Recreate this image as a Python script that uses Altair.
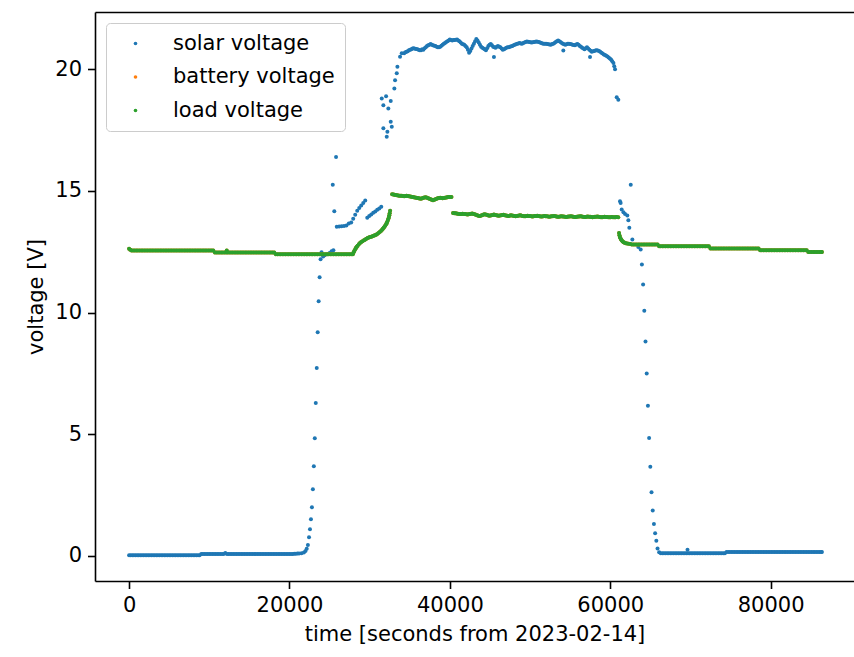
import altair as alt
import pandas as pd

# ---------------- data ----------------
series_names = ["solar voltage", "battery voltage", "load voltage"]
series_colors = ["#1f77b4", "#ff7f0e", "#2ca02c"]
x_ticks = [0, 20000, 40000, 60000, 80000]
y_ticks = [0, 5, 10, 15, 20]

# --- solar voltage, night before dawn
solar_night1_time = [
    0, 200, 400, 600, 800, 1000, 1200, 1400, 1600, 1800,
    2000, 2200, 2400, 2600, 2800, 3000, 3200, 3400, 3600, 3800,
    4000, 4200, 4400, 4600, 4800, 5000, 5200, 5400, 5600, 5800,
    6000, 6200, 6400, 6600, 6800, 7000, 7200, 7400, 7600, 7800,
    8000, 8200, 8400, 8600, 8800,
]
solar_night1_volt = [
    0.03, 0.03, 0.03, 0.03, 0.03, 0.03, 0.03, 0.03, 0.03, 0.03,
    0.03, 0.03, 0.03, 0.03, 0.03, 0.03, 0.03, 0.03, 0.03, 0.03,
    0.03, 0.03, 0.03, 0.03, 0.03, 0.03, 0.03, 0.03, 0.03, 0.03,
    0.03, 0.03, 0.03, 0.03, 0.03, 0.03, 0.03, 0.03, 0.03, 0.03,
    0.03, 0.03, 0.03, 0.03, 0.03,
]
solar_night2_time = [
    9000, 9200, 9400, 9600, 9800, 10000, 10200, 10400, 10600, 10800,
    11000, 11200, 11400, 11600, 11800, 12000, 12200, 12400, 12600, 12800,
    13000, 13200, 13400, 13600, 13800, 14000, 14200, 14400, 14600, 14800,
    15000, 15200, 15400, 15600, 15800, 16000, 16200, 16400, 16600, 16800,
    17000, 17200, 17400, 17600, 17800, 18000, 18200, 18400, 18600, 18800,
    19000, 19200, 19400, 19600, 19800, 20000, 20200, 20400, 20600, 20800,
    21000, 21200,
]
solar_night2_volt = [
    0.08, 0.08, 0.08, 0.08, 0.08, 0.08, 0.08, 0.08, 0.08, 0.08,
    0.08, 0.08, 0.08, 0.08, 0.08, 0.12, 0.08, 0.08, 0.08, 0.08,
    0.08, 0.08, 0.08, 0.08, 0.08, 0.08, 0.08, 0.08, 0.08, 0.08,
    0.08, 0.08, 0.08, 0.08, 0.08, 0.08, 0.08, 0.08, 0.08, 0.08,
    0.08, 0.08, 0.08, 0.08, 0.08, 0.08, 0.08, 0.08, 0.08, 0.08,
    0.08, 0.08, 0.08, 0.08, 0.08, 0.08, 0.08, 0.08, 0.09, 0.09,
    0.1, 0.1,
]
# --- solar voltage, daytime
solar_day_time = [
    21500, 21800, 22000, 22150, 22300, 22440, 22560, 22680, 22800, 22920, 23040, 23160, 23280,
    23400, 23520, 23640, 23760, 23880, 24000,
    24200, 24400, 24700, 25000, 25250, 25480, 25400, 25590, 25810,
    25900, 26200, 26500, 26800, 27100, 27400, 27700,
    27950, 28200, 28450, 28700, 28950, 29200, 29450,
    29700, 29950, 30200, 30450, 30700, 30950, 31200, 31450,
    31510, 31710, 32050, 32330, 32630, 31710, 32210, 32130, 32760, 32630,
    33080, 33170, 33380, 33460, 33790, 34000,
    34300, 34600, 34900, 35200, 35500, 35800, 36100, 36400, 36700, 37000, 37300, 37600, 37900,
    38200, 38500, 38800, 39100, 39400, 39700, 40000, 40300, 40600, 40900, 41200, 41500, 41800,
    42100, 42400, 42700, 43000, 43300, 43600, 43900, 44200, 44500, 44800, 45100, 45400, 45500,
    45700, 46000, 46300, 46600, 46900, 47200, 47500, 47800, 48100, 48400, 48700, 49000, 49300,
    49600, 49900, 50200, 50500, 50800, 51100, 51400, 51700, 52000, 52300, 52600, 52900, 53200,
    53500, 53800, 54100, 54150, 54400, 54700, 55000, 55300, 55600, 55900, 56200, 56500, 56800,
    57100, 57400, 57480, 57700, 58000, 58300, 58600, 58900, 59200, 59500, 59800, 60100, 60400,
    60600, 60810, 61010,
    61220, 61300, 61430, 61650, 61850, 62130, 62260, 62380, 62560, 62760, 63500, 63800, 63950,
    64100, 64250, 64400, 64550, 64700, 64850, 65000, 65150, 65300, 65450, 65600, 65750, 65900,
    66100, 69640,
]
solar_day_volt = [
    0.11, 0.14, 0.2, 0.3, 0.45, 0.77, 1.1, 1.51, 2.0, 2.74, 3.69, 4.84, 6.28,
    7.72, 9.19, 10.46, 11.45, 12.19, 12.48,
    12.3, 12.35, 12.4, 12.45, 12.52, 12.56, 15.25, 14.16, 16.39,
    13.53, 13.54, 13.55, 13.56, 13.58, 13.66, 13.7,
    13.85, 14.02, 14.18, 14.3, 14.4, 14.5, 14.6,
    13.9, 13.97, 14.03, 14.1, 14.15, 14.22, 14.28, 14.35,
    18.8, 18.52, 18.89, 18.38, 18.69, 17.57, 17.43, 17.22, 17.63, 17.84,
    19.21, 19.55, 19.83, 20.1, 20.51, 20.65,
    20.66, 20.72, 20.78, 20.82, 20.86, 20.83, 20.8, 20.78, 20.8, 20.9, 20.98, 21.04, 20.98,
    20.95, 20.9, 20.92, 21.0, 21.08, 21.15, 21.22, 21.18, 21.2, 21.22, 21.15, 21.05, 21.0,
    20.9, 20.68, 20.85, 21.05, 21.24, 21.1, 20.92, 20.85, 20.78, 20.95, 21.04, 20.92, 20.5,
    20.88, 20.95, 20.9, 20.8, 20.85, 20.9, 20.92, 20.95, 21.0, 21.05, 21.08, 21.05, 21.1,
    21.14, 21.12, 21.1, 21.12, 21.14, 21.12, 21.08, 21.05, 21.05, 21.02, 21.0, 21.05, 21.12,
    21.18, 21.12, 21.05, 20.77, 21.0, 21.05, 21.04, 21.0, 20.98, 21.04, 20.95, 20.88, 20.82,
    20.9, 20.8, 20.5, 20.72, 20.75, 20.78, 20.75, 20.68, 20.6, 20.55, 20.48, 20.4, 20.25,
    20.0, 18.85, 18.74,
    14.57, 14.5, 14.23, 14.12, 14.05, 13.99, 13.79, 13.49, 15.25, 13.0, 12.69, 12.59, 11.97,
    11.15, 10.07, 8.81, 7.5, 6.17, 4.85, 3.66, 2.62, 1.87, 1.31, 0.93, 0.62, 0.31,
    0.15, 0.25,
]
# --- solar voltage, further readings inside the noisy midday band
solar_band_time = [
    34450, 34750, 35050, 35350, 35650, 35950, 36250, 36550, 36850, 37150,
    37450, 37750, 38050, 38350, 38650, 38950, 39250, 39550, 39850, 40150,
    40450, 40750, 41050, 41350, 41650, 41950, 42250, 42550, 42850, 43150,
    43450, 43750, 44050, 44350, 44650, 44950, 45250, 45550, 45850, 46150,
    46450, 46750, 47050, 47350, 47650, 47950, 48250, 48550, 48850, 49150,
    49450, 49750, 50050, 50350, 50650, 50950, 51250, 51550, 51850, 52150,
    52450, 52750, 53050, 53350, 53650, 53950, 54250, 54550, 54850, 55150,
    55450, 55750, 56050, 56350, 56650, 56950, 57250, 57550, 57850, 58150,
    58450, 58750, 59050, 59350, 59650, 59950, 60250, 60500,
]
solar_band_volt = [
    20.7, 20.74, 20.8, 20.85, 20.84, 20.82, 20.78, 20.82, 20.86, 20.95,
    21.0, 21.0, 20.96, 20.92, 20.9, 20.96, 21.05, 21.12, 21.18, 21.2,
    21.2, 21.21, 21.18, 21.1, 21.02, 20.95, 20.8, 20.75, 20.95, 21.15,
    21.18, 21.0, 20.88, 20.82, 20.86, 21.0, 20.98, 20.9, 20.92, 20.92,
    20.85, 20.82, 20.88, 20.9, 20.94, 20.98, 21.02, 21.06, 21.06, 21.08,
    21.12, 21.13, 21.11, 21.11, 21.13, 21.13, 21.1, 21.06, 21.05, 21.03,
    21.01, 21.03, 21.08, 21.15, 21.15, 21.08, 21.02, 21.02, 21.05, 21.02,
    20.99, 21.01, 21.0, 20.92, 20.85, 20.86, 20.85, 20.76, 20.74, 20.77,
    20.77, 20.72, 20.64, 20.58, 20.52, 20.44, 20.33, 20.12,
]
# --- solar voltage, night after sunset
solar_night3_time = [
    66300, 66500, 66700, 66900, 67100, 67300, 67500, 67700, 67900, 68100,
    68300, 68500, 68700, 68900, 69100, 69300, 69500, 69700, 69900, 70100,
    70300, 70500, 70700, 70900, 71100, 71300, 71500, 71700, 71900, 72100,
    72300, 72500, 72700, 72900, 73100, 73300, 73500, 73700, 73900, 74100,
    74300,
]
solar_night3_volt = [
    0.11, 0.11, 0.11, 0.11, 0.11, 0.11, 0.11, 0.11, 0.11, 0.11,
    0.11, 0.11, 0.11, 0.11, 0.11, 0.11, 0.11, 0.11, 0.11, 0.11,
    0.11, 0.11, 0.11, 0.11, 0.11, 0.11, 0.11, 0.11, 0.11, 0.11,
    0.11, 0.11, 0.11, 0.11, 0.11, 0.11, 0.11, 0.11, 0.11, 0.11,
    0.11,
]
solar_night4_time = [
    74500, 74700, 74900, 75100, 75300, 75500, 75700, 75900, 76100, 76300,
    76500, 76700, 76900, 77100, 77300, 77500, 77700, 77900, 78100, 78300,
    78500, 78700, 78900, 79100, 79300, 79500, 79700, 79900, 80100, 80300,
    80500, 80700, 80900, 81100, 81300, 81500, 81700, 81900, 82100, 82300,
    82500, 82700, 82900, 83100, 83300, 83500, 83700, 83900, 84100, 84300,
    84500, 84700, 84900, 85100, 85300, 85500, 85700, 85900, 86100, 86300,
    86400,
]
solar_night4_volt = [
    0.16, 0.16, 0.16, 0.16, 0.16, 0.16, 0.16, 0.16, 0.16, 0.16,
    0.16, 0.16, 0.16, 0.16, 0.16, 0.16, 0.16, 0.16, 0.16, 0.16,
    0.16, 0.16, 0.16, 0.16, 0.16, 0.16, 0.16, 0.16, 0.16, 0.16,
    0.16, 0.16, 0.16, 0.16, 0.16, 0.16, 0.16, 0.16, 0.16, 0.16,
    0.16, 0.16, 0.16, 0.16, 0.16, 0.16, 0.16, 0.16, 0.16, 0.16,
    0.16, 0.16, 0.16, 0.16, 0.16, 0.16, 0.16, 0.16, 0.16, 0.16,
    0.16,
]

# --- load voltage, night before dawn
load_night1_time = [
    0, 150, 300, 500, 700, 900, 1100, 1300, 1500, 1700, 1900, 2100,
    2300, 2500, 2700, 2900, 3100, 3300, 3500, 3700, 3900, 4100,
    4300, 4500, 4700, 4900, 5100, 5300, 5500, 5700, 5900, 6100,
    6300, 6500, 6700, 6900, 7100, 7300, 7500, 7700, 7900, 8100,
    8300, 8500, 8700, 8900, 9100, 9300, 9500, 9700, 9900, 10100,
    10300, 10500,
]
load_night1_volt = [
    12.62, 12.58, 12.55, 12.55, 12.55, 12.55, 12.55, 12.55, 12.55, 12.55, 12.55, 12.55,
    12.55, 12.55, 12.55, 12.55, 12.55, 12.55, 12.55, 12.55, 12.55, 12.55,
    12.55, 12.55, 12.55, 12.55, 12.55, 12.55, 12.55, 12.55, 12.55, 12.55,
    12.55, 12.55, 12.55, 12.55, 12.55, 12.55, 12.55, 12.55, 12.55, 12.55,
    12.55, 12.55, 12.55, 12.55, 12.55, 12.55, 12.55, 12.55, 12.55, 12.55,
    12.55, 12.55,
]
load_night2_time = [
    10700, 10900, 11100, 11300, 11500, 11700, 11900, 12100, 12180, 12300,
    12500, 12700, 12900, 13100, 13300, 13500, 13700, 13900, 14100, 14300,
    14500, 14700, 14900, 15100, 15300, 15500, 15700, 15900, 16100, 16300,
    16500, 16700, 16900, 17100, 17300, 17500, 17700, 17900, 18100,
]
load_night2_volt = [
    12.47, 12.47, 12.47, 12.47, 12.47, 12.47, 12.47, 12.47, 12.55, 12.47,
    12.47, 12.47, 12.47, 12.47, 12.47, 12.47, 12.47, 12.47, 12.47, 12.47,
    12.47, 12.47, 12.47, 12.47, 12.47, 12.47, 12.47, 12.47, 12.47, 12.47,
    12.47, 12.47, 12.47, 12.47, 12.47, 12.47, 12.47, 12.47, 12.47,
]
load_night3_time = [
    18300, 18500, 18700, 18900, 19100, 19300, 19500, 19700, 19900, 20100,
    20300, 20500, 20700, 20900, 21100, 21300, 21500, 21700, 21900, 22100,
    22300, 22500, 22700, 22900, 23100, 23300, 23500, 23700, 23900, 24100,
    24300, 24500, 24700, 24900, 25100, 25300, 25500, 25700, 25900, 26100,
    26300, 26500, 26700, 26900, 27100, 27300, 27500, 27700, 27900,
]
load_night3_volt = [
    12.4, 12.4, 12.4, 12.4, 12.4, 12.4, 12.4, 12.4, 12.4, 12.4,
    12.4, 12.4, 12.4, 12.4, 12.4, 12.4, 12.4, 12.4, 12.4, 12.4,
    12.4, 12.4, 12.4, 12.4, 12.4, 12.4, 12.4, 12.4, 12.4, 12.4,
    12.4, 12.4, 12.4, 12.4, 12.4, 12.4, 12.4, 12.4, 12.4, 12.4,
    12.4, 12.4, 12.4, 12.4, 12.4, 12.4, 12.4, 12.4, 12.4,
]
# --- load voltage, daytime
load_day_time = [
    28000, 28100, 28200, 28300, 28400, 28500, 28650, 28800, 28950, 29100, 29300, 29450, 29600,
    29750, 29900, 30050, 30200, 30350, 30500, 30650, 30800, 30950, 31100, 31250, 31400, 31550,
    31650, 31750, 31850, 31950, 32050, 32130, 32200, 32280, 32350, 32400, 32450, 32500, 32550,
    32800, 33100, 33400, 33700, 34000, 34300, 34600, 34900, 35200, 35500, 35800, 36100, 36400,
    36700, 37000, 37300, 37600, 37900, 38200, 38500, 38800, 39100, 39400, 39700, 40000, 40200,
    40400, 40700, 41000, 41300, 41600, 41900, 42200, 42500, 42800, 43100, 43400, 43700, 44000,
    44300, 44600, 44900, 45200, 45500, 45800, 46100, 46400, 46700, 47000, 47300, 47600, 47900,
    48200, 48500, 48800, 49100, 49400, 49700, 50000, 50300, 50600, 50900, 51200, 51500, 51800,
    52100, 52400, 52700, 53000, 53300, 53600, 53900, 54200, 54500, 54800, 55100, 55400, 55700,
    56000, 56300, 56600, 56900, 57200, 57500, 57800, 58100, 58400, 58700, 59000, 59300, 59600,
    59900, 60200, 60500, 60800, 61000,
    61100, 61150, 61200, 61280, 61350, 61450, 61550, 61680, 61800, 61950, 62100, 62300, 62500,
]
load_day_volt = [
    12.48, 12.54, 12.6, 12.66, 12.7, 12.75, 12.81, 12.86, 12.9, 12.93, 12.97, 13.0, 13.03,
    13.06, 13.08, 13.1, 13.12, 13.14, 13.16, 13.18, 13.2, 13.23, 13.27, 13.31, 13.35, 13.4,
    13.44, 13.48, 13.53, 13.58, 13.63, 13.68, 13.73, 13.8, 13.87, 13.93, 14.0, 14.08, 14.18,
    14.86, 14.84, 14.82, 14.8, 14.8, 14.78, 14.8, 14.78, 14.76, 14.74, 14.72, 14.7, 14.68,
    14.72, 14.74, 14.7, 14.66, 14.62, 14.66, 14.7, 14.72, 14.7, 14.72, 14.74, 14.75, 14.75,
    14.09, 14.08, 14.06, 14.05, 14.06, 14.05, 14.03, 14.05, 14.07, 14.04, 14.0, 13.97, 14.0,
    14.04, 14.02, 13.98, 14.0, 14.03, 14.0, 13.98, 14.0, 14.02, 13.99, 13.97, 14.0, 13.98,
    13.96, 13.98, 14.0, 13.97, 13.96, 13.98, 13.97, 13.95, 13.97, 13.98, 13.96, 13.95, 13.97,
    13.96, 13.94, 13.96, 13.97, 13.95, 13.94, 13.96, 13.95, 13.93, 13.95, 13.96, 13.94, 13.93,
    13.95, 13.96, 13.94, 13.93, 13.95, 13.94, 13.92, 13.94, 13.95, 13.93, 13.92, 13.94, 13.93,
    13.92, 13.93, 13.92, 13.93, 13.92,
    13.27, 13.18, 13.1, 13.05, 13.0, 12.96, 12.92, 12.89, 12.87, 12.85, 12.84, 12.83, 12.82,
]
# --- load voltage, further readings along the two daytime plateaus
load_band_time = [
    32950, 33250, 33550, 33850, 34150, 34450, 34750, 35050, 35350, 35650,
    35950, 36250, 36550, 36850, 37150, 37450, 37750, 38050, 38350, 38650,
    38950, 39250, 39550, 39850,
    40550, 40850, 41150, 41450, 41750, 42050, 42350, 42650, 42950, 43250,
    43550, 43850, 44150, 44450, 44750, 45050, 45350, 45650, 45950, 46250,
    46550, 46850, 47150, 47450, 47750, 48050, 48350, 48650, 48950, 49250,
    49550, 49850, 50150, 50450, 50750, 51050, 51350, 51650, 51950, 52250,
    52550, 52850, 53150, 53450, 53750, 54050, 54350, 54650, 54950, 55250,
    55550, 55850, 56150, 56450, 56750, 57050, 57350, 57650, 57950, 58250,
    58550, 58850, 59150, 59450, 59750, 60050, 60350, 60650,
]
load_band_volt = [
    14.85, 14.83, 14.81, 14.8, 14.79, 14.79, 14.79, 14.77, 14.75, 14.73,
    14.71, 14.69, 14.7, 14.73, 14.72, 14.68, 14.64, 14.64, 14.68, 14.71,
    14.71, 14.71, 14.73, 14.75,
    14.08, 14.07, 14.05, 14.05, 14.05, 14.04, 14.04, 14.06, 14.05, 14.02,
    13.98, 13.98, 14.02, 14.03, 14.0, 13.99, 14.01, 14.01, 13.99, 13.99,
    14.01, 14.0, 13.98, 13.98, 13.99, 13.97, 13.97, 13.99, 13.98, 13.96,
    13.97, 13.97, 13.96, 13.96, 13.97, 13.97, 13.95, 13.96, 13.96, 13.95,
    13.95, 13.96, 13.96, 13.94, 13.95, 13.95, 13.94, 13.94, 13.95, 13.95,
    13.93, 13.94, 13.95, 13.95, 13.93, 13.94, 13.94, 13.93, 13.93, 13.94,
    13.94, 13.92, 13.93, 13.93, 13.92, 13.92, 13.92, 13.92,
]
# --- load voltage, night after sunset
load_night4_time = [
    62700, 62900, 63100, 63300, 63500, 63700, 63900, 64100, 64300, 64500,
    64700, 64900, 65100, 65300, 65500, 65700, 65900,
    66100, 66300, 66500, 66700, 66900, 67100, 67300, 67500, 67700, 67900,
    68100, 68300, 68500, 68700, 68900, 69100, 69300, 69500, 69700, 69900,
    70100, 70300, 70500, 70700, 70900, 71100, 71300, 71500, 71700, 71900,
    72100, 72300,
]
load_night4_volt = [
    12.8, 12.8, 12.8, 12.8, 12.8, 12.8, 12.8, 12.8, 12.8, 12.8,
    12.8, 12.8, 12.8, 12.8, 12.8, 12.8, 12.8,
    12.72, 12.72, 12.72, 12.72, 12.72, 12.72, 12.72, 12.72, 12.72, 12.72,
    12.72, 12.72, 12.72, 12.72, 12.72, 12.72, 12.72, 12.72, 12.72, 12.72,
    12.72, 12.72, 12.72, 12.72, 12.72, 12.72, 12.72, 12.72, 12.72, 12.72,
    12.72, 12.72,
]
load_night5_time = [
    72500, 72700, 72900, 73100, 73300, 73500, 73700, 73900, 74100, 74300,
    74500, 74700, 74900, 75100, 75300, 75500, 75700, 75900, 76100, 76300,
    76500, 76700, 76900, 77100, 77300, 77500, 77700, 77900, 78100, 78300,
    78500,
    78700, 78900, 79100, 79300, 79500, 79700, 79900, 80100, 80300, 80500,
    80700, 80900, 81100, 81300, 81500, 81700, 81900, 82100, 82300, 82500,
    82700, 82900, 83100, 83300, 83500, 83700, 83900, 84100, 84300, 84500,
    84700, 84900, 85100, 85300, 85500, 85700, 85900, 86100, 86300, 86400,
]
load_night5_volt = [
    12.63, 12.63, 12.63, 12.63, 12.63, 12.63, 12.63, 12.63, 12.63, 12.63,
    12.63, 12.63, 12.63, 12.63, 12.63, 12.63, 12.63, 12.63, 12.63, 12.63,
    12.63, 12.63, 12.63, 12.63, 12.63, 12.63, 12.63, 12.63, 12.63, 12.63,
    12.63,
    12.56, 12.56, 12.56, 12.56, 12.56, 12.56, 12.56, 12.56, 12.56, 12.56,
    12.56, 12.56, 12.56, 12.56, 12.56, 12.56, 12.56, 12.56, 12.56, 12.56,
    12.56, 12.56, 12.56, 12.56, 12.56, 12.56, 12.56, 12.56, 12.56, 12.56,
    12.49, 12.49, 12.49, 12.49, 12.49, 12.49, 12.49, 12.49, 12.49, 12.49,
]

solar_time = (solar_night1_time + solar_night2_time + solar_day_time + solar_band_time
              + solar_night3_time + solar_night4_time)
solar_volt = (solar_night1_volt + solar_night2_volt + solar_day_volt + solar_band_volt
              + solar_night3_volt + solar_night4_volt)
load_time = (load_night1_time + load_night2_time + load_night3_time + load_day_time
             + load_band_time + load_night4_time + load_night5_time)
load_volt = (load_night1_volt + load_night2_volt + load_night3_volt + load_day_volt
             + load_band_volt + load_night4_volt + load_night5_volt)
assert len(solar_band_time) == len(solar_band_volt), (len(solar_band_time), len(solar_band_volt))
assert len(load_band_time) == len(load_band_volt), (len(load_band_time), len(load_band_volt))
assert len(solar_time) == len(solar_volt), (len(solar_time), len(solar_volt))
assert len(load_time) == len(load_volt), (len(load_time), len(load_volt))

# battery voltage is drawn underneath the load voltage and reads the same
battery_time = load_time
battery_volt = load_volt

# ---------------- table ----------------
rows = []
for name, ts, vs in [
    (series_names[0], solar_time, solar_volt),
    (series_names[1], battery_time, battery_volt),
    (series_names[2], load_time, load_volt),
]:
    for t, v in zip(ts, vs):
        rows.append({"t": t, "v": v, "series": name})
df = pd.DataFrame(rows)

FONT = "DejaVu Sans"
x_scale = alt.Scale(domain=[-4250, 90400], nice=False, zero=False)
y_scale = alt.Scale(domain=[-1.03, 22.35], nice=False, zero=False)

points = alt.Chart(df).mark_circle(size=16, opacity=1).encode(
    x=alt.X("t:Q", scale=x_scale,
            axis=alt.Axis(values=x_ticks, format="d", title="time [seconds from 2023-02-14]",
                          orient="bottom")),
    y=alt.Y("v:Q", scale=y_scale,
            axis=alt.Axis(values=y_ticks, format="d", title="voltage [V]")),
    color=alt.Color("series:N",
                    scale=alt.Scale(domain=series_names, range=series_colors),
                    sort=series_names,
                    legend=alt.Legend(title=None, orient="none", legendX=11, legendY=11,
                                      labelFontSize=21, labelFont=FONT, labelColor="black",
                                      labelLimit=400,
                                      symbolSize=13, symbolType="circle", symbolStrokeWidth=0,
                                      symbolOffset=9, labelOffset=27, rowPadding=11.5,
                                      padding=10, fillColor="white", strokeColor="#cccccc",
                                      cornerRadius=4)),
)

top_spine = alt.Chart(df).mark_circle(opacity=0).encode(
    x=alt.X("t:Q", scale=x_scale,
            axis=alt.Axis(orient="top", labels=False, ticks=False, title=None)),
    y=alt.Y("v:Q", scale=y_scale),
)

chart = alt.layer(points, top_spine).resolve_axis(x="independent").properties(
    width=759, height=569,
    autosize=alt.AutoSizeParams(type="none"),
    padding={"left": 95, "top": 12, "right": 0, "bottom": 76},
    background="white",
).configure_view(stroke="transparent").configure_axis(
    grid=False, domainColor="black", domainWidth=1.6, tickColor="black", tickWidth=1.6,
    tickSize=7.5, labelFont=FONT, labelFontSize=21, labelColor="black", labelPadding=6,
    titleFont=FONT, titleFontSize=21, titleColor="black", titleFontWeight="normal",
    titlePadding=8,
)

chart.save("out.html", embed_options={"renderer": "svg", "actions": False})
